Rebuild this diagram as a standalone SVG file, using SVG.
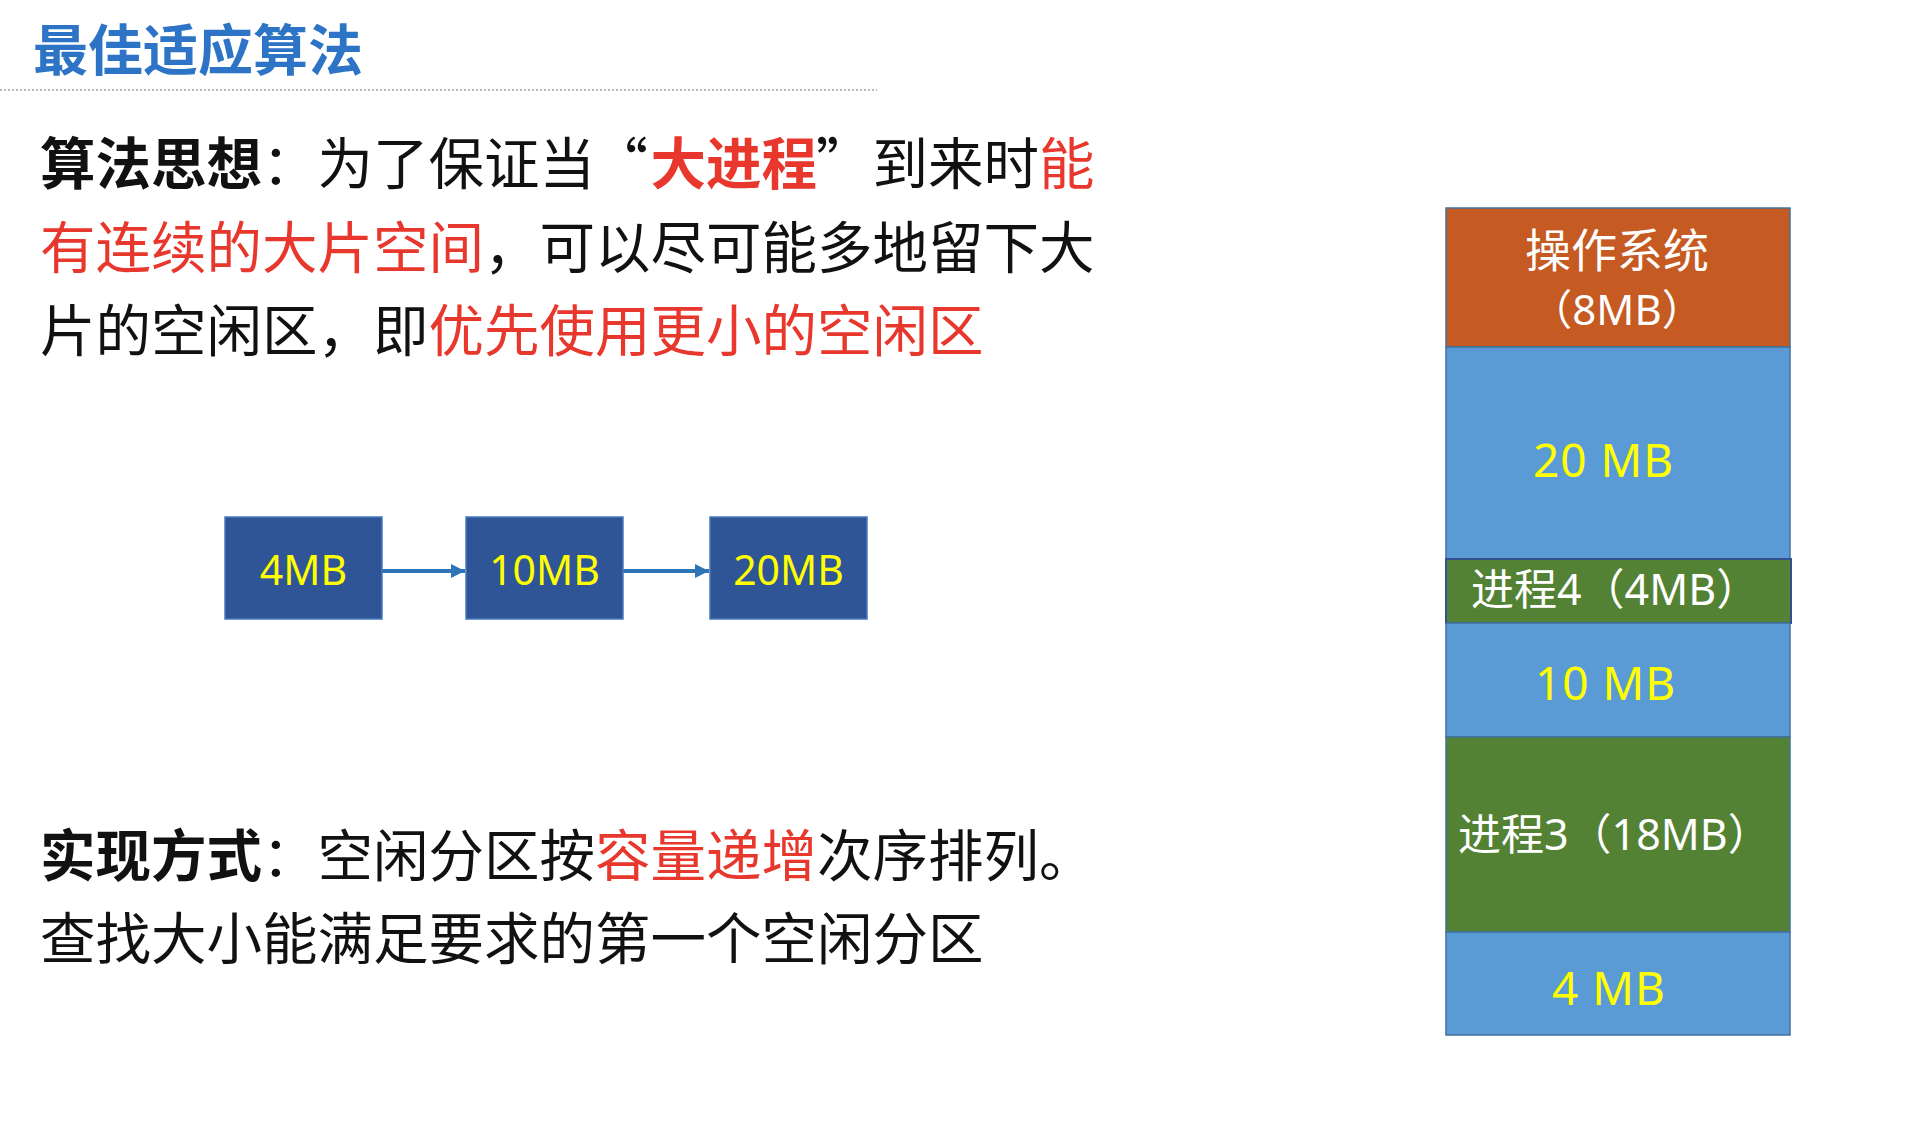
<svg xmlns="http://www.w3.org/2000/svg" width="1928" height="1128" viewBox="0 0 1928 1128">
<style>
.cjk{font-family:"Noto Sans CJK SC","Noto Sans",sans-serif}
.lat{font-family:"Noto Sans","Noto Sans CJK SC",sans-serif}
.body{font-size:55.5px;fill:#111}
.red{fill:#e8372c}
.b{font-weight:bold}
.box{fill:#2f5597;stroke:#4a78bc;stroke-width:1.5}
.boxt{font-size:41px;fill:#ffff00;text-anchor:middle}
.mem{stroke:#41719c;stroke-width:1.5}
.blue{fill:#5b9bd5}
.green{fill:#548235}
.yl{font-size:46px;fill:#ffff00;letter-spacing:1px}
.wt{fill:#ffffff}
.conn{stroke:#2e75b6;stroke-width:4;fill:none}
</style>
<defs>
<marker id="arr" viewBox="0 0 10 10" refX="10" refY="5" markerWidth="3.6" markerHeight="4.2" orient="auto" markerUnits="strokeWidth">
<path d="M0,0 L10,5 L0,10 Z" fill="#2e75b6"/>
</marker>
</defs>
<rect width="1928" height="1128" fill="#ffffff"/>

<g id="title">
<text class="cjk b" x="33" y="70" font-size="55" fill="#2e74c6">最佳适应算法</text>
<line x1="0" y1="90" x2="877" y2="90" stroke="#b8b8b8" stroke-width="2" stroke-dasharray="2 2"/>
</g>

<g id="idea">
<text class="cjk body" y="184"><tspan class="b" x="40">算法思想</tspan><tspan x="262">：为了保证当</tspan></text>
<text class="cjk body" x="648" y="184" text-anchor="end">“</text>
<text class="cjk body" y="184"><tspan class="b red" x="650.5">大进程</tspan><tspan x="816">”</tspan><tspan x="872.5">到来时</tspan><tspan class="red" x="1039">能</tspan></text>
<text class="cjk body" y="268"><tspan class="red" x="40">有连续的大片空间</tspan><tspan x="484">，可以尽可能多地留下大</tspan></text>
<text class="cjk body" y="351"><tspan x="40">片的空闲区，即</tspan><tspan class="red" x="428.5">优先使用更小的空闲区</tspan></text>
</g>

<g id="impl">
<text class="cjk body" y="876"><tspan class="b" x="40">实现方式</tspan><tspan x="262">：空闲分区按</tspan><tspan class="red" x="595">容量递增</tspan><tspan x="817">次序排列。</tspan></text>
<text class="cjk body" x="40" y="959">查找大小能满足要求的第一个空闲分区</text>
</g>

<g id="connectors">
<line class="conn" x1="382" y1="571" x2="465" y2="571" marker-end="url(#arr)"/>
<line class="conn" x1="623" y1="571" x2="709" y2="571" marker-end="url(#arr)"/>
</g>

<g id="node-4mb">
<rect class="box" x="225" y="517" width="157" height="102"/>
<text class="lat boxt" x="303.5" y="585">4MB</text>
</g>
<g id="node-10mb">
<rect class="box" x="466" y="517" width="157" height="102"/>
<text class="lat boxt" x="544.5" y="585">10MB</text>
</g>
<g id="node-20mb">
<rect class="box" x="710" y="517" width="157" height="102"/>
<text class="lat boxt" x="788.5" y="585">20MB</text>
</g>

<g id="mem-os">
<rect class="mem" x="1446" y="208" width="344" height="139" fill="#c55a22"/>
<text class="cjk wt" x="1617" y="267" font-size="46" text-anchor="middle">操作系统</text>
<text class="lat wt" x="1617" y="325" font-size="42" text-anchor="middle">（8MB）</text>
</g>
<g id="mem-20mb">
<rect class="mem blue" x="1446" y="347" width="344" height="212"/>
<text class="lat yl" x="1533" y="477">20 MB</text>
</g>
<g id="mem-p4">
<rect class="green" x="1446" y="559" width="345" height="64" stroke="#2f528f" stroke-width="2"/>
<text class="lat wt" x="1471" y="605" font-size="43">进程4（4MB）</text>
</g>
<g id="mem-10mb">
<rect class="mem blue" x="1446" y="623" width="344" height="114"/>
<text class="lat yl" x="1535" y="700">10 MB</text>
</g>
<g id="mem-p3">
<rect class="mem green" x="1446" y="737" width="344" height="195"/>
<text class="lat wt" x="1458" y="850" font-size="43">进程3（18MB）</text>
</g>
<g id="mem-4mb">
<rect class="mem blue" x="1446" y="932" width="344" height="103"/>
<text class="lat yl" x="1552" y="1005">4 MB</text>
</g>
</svg>
